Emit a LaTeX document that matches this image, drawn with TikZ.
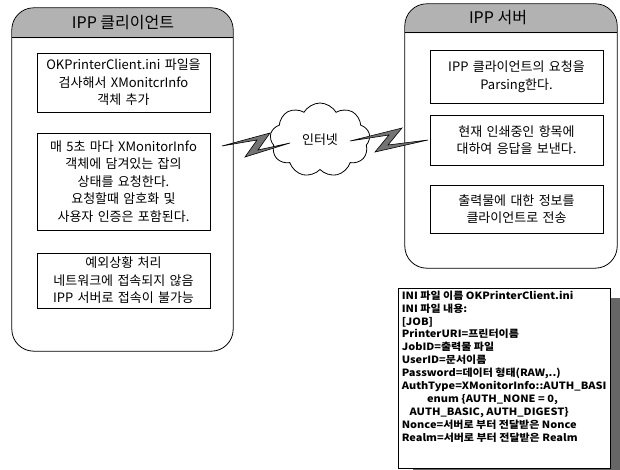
\documentclass[tikz,border=0pt]{standalone}
\usepackage{fontspec}
\setmainfont{Noto Sans CJK KR}
\usetikzlibrary{shapes.symbols}
\begin{document}
\begin{tikzpicture}[x=1pt,y=-1pt,
  container/.style={rounded corners=22pt, inner sep=0pt},
  border/.style={draw, line width=0.8pt, rounded corners=22pt},
  stepbox/.style={draw, line width=0.7pt, minimum width=173pt, text width=172pt, align=center, inner sep=0pt, font=\fontsize{13}{17.5}\selectfont},
  title/.style={font=\fontsize{16}{18}\selectfont},
  bolt/.style={draw, fill=black!55, line width=0.6pt, line join=miter},
  hdr/.style={draw=black!30, fill=black!30, line width=0.3pt},
  shadowfill/.style={fill=black!60, draw=black!60, inner sep=0pt}]
\useasboundingbox (0,0) rectangle (620,470);

% header fills
\path[hdr] (12.4,38) -- (12.4,30) to[out=90,in=180] (34.4,8.4) -- (210.6,8.4) to[out=0,in=90] (232.6,30) -- (232.6,38) -- cycle;
\path[hdr] (405.4,33) -- (405.4,26) to[out=90,in=180] (427.4,4.4) -- (594.6,4.4) to[out=0,in=90] (616.6,26) -- (616.6,33) -- cycle;

% containers
\node[container, minimum width=221pt, minimum height=343pt] (client) at (122.5,179.5) {};
\draw[border] (client.north west) rectangle (client.south east);
\draw[line width=0.8pt] ([yshift=-30pt]client.north west) -- ([yshift=-30pt]client.north east);
\node[title] (clienttitle) at (123,23) {IPP 클리이언트};

\node[container, minimum width=212pt, minimum height=264pt] (server) at (511,136) {};
\draw[border] (server.north west) rectangle (server.south east);
\draw[line width=0.8pt] ([yshift=-29pt]server.north west) -- ([yshift=-29pt]server.north east);
\node[title] (servertitle) at (498,18) {IPP 서버};

% client boxes
\node[stepbox, minimum height=59pt] (l1) at (123.5,82.5) {OKPrinterClient.ini 파일을\\검사해서 XMonitcrInfo\\객체 추가};
\node[stepbox, minimum height=97pt] (l2) at (123.5,181.5) {매 5초 마다 XMonitorInfo\\객체에 담겨있는 잡의\\상태를 요청한다.\\요청할때 암호화 및\\사용자 인증은 포함된다.};
\node[stepbox, minimum height=55pt] (l3) at (123.5,280.5) {예외상황 처리\\네트워크에 접속되지 않음\\IPP 서버로 접속이 불가능};

% server boxes
\node[stepbox, minimum height=53pt] (r1) at (516.5,76.5) {IPP 클라이언트의 요청을\\Parsing한다.};
\node[stepbox, minimum height=50pt] (r2) at (516.5,140) {현재 인쇄중인 항목에\\대하여 응답을 보낸다.};
\node[stepbox, minimum height=48pt] (r3) at (516.5,209) {출력물에 대한 정보를\\클라이언트로 전송};

% cloud
\node[cloud, draw, line width=0.8pt, cloud puffs=9, cloud puff arc=120, aspect=1.35, minimum width=100pt, minimum height=74pt, inner sep=0pt, font=\fontsize{13}{15}\selectfont] (net) at (320,140) {인터넷};

% lightning bolts
\draw[bolt] (222,146) -- (270,133) -- (258,150) -- (290,143) -- (245,157) -- (257,140) -- cycle;
\draw[bolt] (350,141) -- (402,128) -- (388,145) -- (428,140) -- (375,152) -- (389,135) -- cycle;

% ini box with shadow
\node[shadowfill, minimum width=212pt, minimum height=180pt] (inishadow) at (519,388) {};
\node[draw, fill=white, line width=0.8pt, minimum width=212pt, minimum height=180pt, inner sep=0pt] (ini) at (504,378) {};
\node[anchor=north west, inner sep=0pt, align=left, xscale=1.1, transform shape, font=\fontsize{10}{12.9}\selectfont\bfseries] (initext) at ([xshift=4pt,yshift=-3pt]ini.north west) {%
INI 파일 이름 OKPrinterClient.ini\\
INI 파일 내용:\\
{[JOB]}\\
PrinterURI=프린터이름\\
JobID=출력물 파일\\
UserID=문서이름\\
Password=데이터 형태(RAW,..)\\
AuthType=XMonitorInfo::AUTH\_BASI\\
\hspace*{23pt}enum \{AUTH\_NONE = 0,\\
\hspace*{7pt}AUTH\_BASIC, AUTH\_DIGEST\}\\
Nonce=서버로 부터 전달받은 Nonce\\
Realm=서버로 부터 전달받은 Realm};
\end{tikzpicture}
\end{document}
